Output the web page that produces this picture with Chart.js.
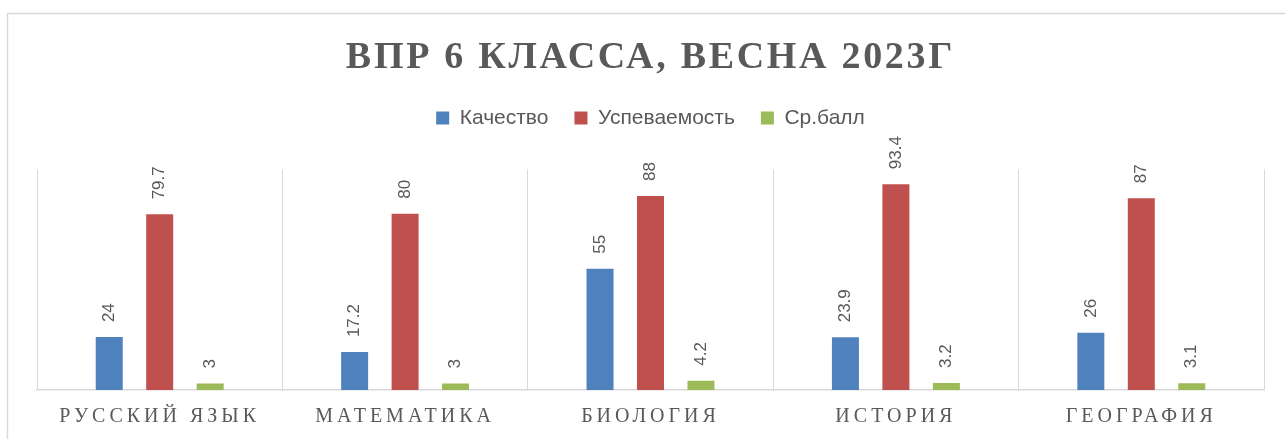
<!DOCTYPE html>
<html>
<head>
<meta charset="utf-8">
<script src="https://cdn.jsdelivr.net/npm/chart.js@4/dist/chart.umd.min.js"></script>
<style>
html,body{margin:0;padding:0;background:#fff;}
#wrap{width:1285px;height:439px;position:relative;}
</style>
</head>
<body>
<div id="wrap"><canvas id="c" width="1285" height="439"></canvas></div>
<script>
const categories = ['РУССКИЙ ЯЗЫК', 'МАТЕМАТИКА', 'БИОЛОГИЯ', 'ИСТОРИЯ', 'ГЕОГРАФИЯ'];
const kachestvo = [24, 17.2, 55, 23.9, 26];
const uspevaemost = [79.7, 80, 88, 93.4, 87];
const srBall = [3, 3, 4.2, 3.2, 3.1];
const seriesNames = ['Качество', 'Успеваемость', 'Ср.балл'];
const titleText = 'ВПР 6 КЛАССА, ВЕСНА 2023Г';

const GRAY = '#595959';

const frame = {
  id: 'frame',
  beforeDraw(chart) {
    const ctx = chart.ctx;
    ctx.save();
    ctx.strokeStyle = '#d9d9d9';
    ctx.lineWidth = 1.5;
    ctx.strokeRect(7.5, 13.5, 1300, 500);
    ctx.restore();
  }
};

const legendHeight = {
  id: 'legendHeight',
  beforeUpdate(chart) {
    const lg = chart.legend;
    if (lg && !lg._fitWrapped) {
      const origFit = lg.fit.bind(lg);
      lg.fit = function() {
        origFit();
        if (this.isHorizontal()) {
          this.height = 88;
          this.minSize = { width: this.width, height: 88 };
        }
      };
      lg._fitWrapped = true;
    }
  }
};

const spacing = {
  id: 'spacing',
  beforeDraw(chart) {
    const tb = chart.titleBlock;
    if (tb && !tb._wrapped) {
      const orig = tb.draw.bind(tb);
      tb.draw = function() {
        const ctx = chart.ctx;
        const prev = ctx.letterSpacing;
        ctx.letterSpacing = '2.7px';
        orig();
        ctx.letterSpacing = prev || '0px';
      };
      tb._wrapped = true;
    }
    const sx = chart.scales.x;
    if (sx && !sx._wrapped) {
      const origL = sx.drawLabels.bind(sx);
      sx.drawLabels = function(a) {
        const ctx = chart.ctx;
        const prev = ctx.letterSpacing;
        ctx.letterSpacing = '4px';
        origL(a);
        ctx.letterSpacing = prev || '0px';
      };
      sx._wrapped = true;
    }
  }
};

const valueLabels = {
  id: 'valueLabels',
  afterDatasetsDraw(chart) {
    const ctx = chart.ctx;
    ctx.save();
    ctx.fillStyle = GRAY;
    ctx.font = '17px "Liberation Sans", Arial, sans-serif';
    ctx.textAlign = 'left';
    ctx.textBaseline = 'middle';
    chart.data.datasets.forEach((ds, i) => {
      const meta = chart.getDatasetMeta(i);
      meta.data.forEach((bar, j) => {
        ctx.save();
        ctx.translate(bar.x, bar.y - 15);
        ctx.rotate(-Math.PI / 2);
        ctx.fillText(String(ds.data[j]), 0, 0);
        ctx.restore();
      });
    });
    ctx.restore();
  }
};

new Chart(document.getElementById('c'), {
  type: 'bar',
  data: {
    labels: categories,
    datasets: [
      { label: seriesNames[0], data: kachestvo, backgroundColor: '#4F81BD' },
      { label: seriesNames[1], data: uspevaemost, backgroundColor: '#C0504D' },
      { label: seriesNames[2], data: srBall, backgroundColor: '#9BBB59' }
    ]
  },
  options: {
    responsive: false,
    animation: false,
    devicePixelRatio: 1,
    categoryPercentage: 0.617,
    barPercentage: 0.535,
    layout: { padding: { left: 37, right: 21, top: 0, bottom: -5 } },
    plugins: {
      title: {
        display: true,
        text: titleText,
        color: GRAY,
        font: { family: '"Liberation Serif", "Times New Roman", serif', size: 38, weight: 'bold', lineHeight: 1.2 },
        padding: { top: 35, bottom: 1 }
      },
      legend: {
        display: true,
        position: 'top',
        labels: {
          color: GRAY,
          boxWidth: 13,
          boxHeight: 13,
          padding: 26,
          font: { family: '"Liberation Sans", Arial, sans-serif', size: 21 }
        }
      },
      tooltip: { enabled: false }
    },
    scales: {
      x: {
        grid: { display: true, color: '#d9d9d9', lineWidth: 1, drawTicks: false, offset: true },
        border: { display: true, color: '#d9d9d9', width: 1.5 },
        ticks: {
          color: GRAY,
          padding: 15,
          font: { family: '"Liberation Serif", "Times New Roman", serif', size: 20 }
        }
      },
      y: {
        display: false,
        min: 0,
        max: 100
      }
    }
  },
  plugins: [frame, legendHeight, spacing, valueLabels]
});
</script>
</body>
</html>
